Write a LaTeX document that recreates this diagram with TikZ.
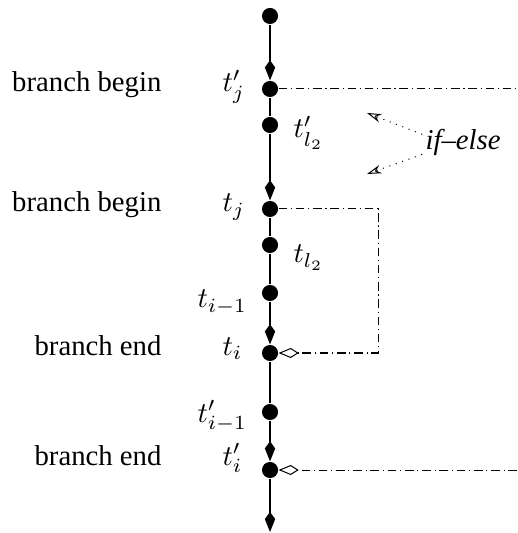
\documentclass[tikz,border=0pt]{standalone}
\usepackage{fontspec}
\setmainfont{Liberation Serif}
\usetikzlibrary{arrows.meta}
\usetikzlibrary{positioning}

\tikzset{
  event/.style={circle,fill=black,inner sep=0pt,minimum size=5.6pt},
  flow/.style={line width=0.5pt,-{Kite[length=7pt,width=3.6pt,inset=2.5pt]}},
  plain/.style={line width=0.5pt},
  branch/.style={line width=0.35pt,dash pattern=on 3pt off 1.3pt on 0.4pt off 1.3pt},
  merge/.style={branch,-{Kite[open,length=7pt,width=3.5pt,inset=2.8pt]}},
  hint/.style={line width=0.35pt,dotted,-{Stealth[open,length=5pt,width=3pt]}},
  kind/.style={anchor=base east,inner sep=0pt},
  tname/.style={anchor=base west,inner sep=0pt},
}

\begin{document}
\begin{tikzpicture}[x=0.348pt,y=-0.348pt]
  \useasboundingbox (0,0) rectangle (517,533);

  % events on the trace
  \node[event] (t0)   at (270,16)  {};
  \node[event] (tjp)  at (270,89)  {};
  \node[event] (tlp)  at (270,125) {};
  \node[event] (tj)   at (270,209) {};
  \node[event] (tl)   at (270,245) {};
  \node[event] (tim)  at (270,293) {};
  \node[event] (ti)   at (270,353) {};
  \node[event] (timp) at (270,412) {};
  \node[event] (tip)  at (270,470) {};
  \coordinate (tend) at (270,532);

  % trace
  \draw[flow]  (t0) -- (tjp);
  \draw[plain] (tjp) -- (tlp);
  \draw[flow]  (tlp) -- (tj);
  \draw[plain] (tj) -- (tl) -- (tim);
  \draw[flow]  (tim) -- (ti);
  \draw[plain] (ti) -- (timp);
  \draw[flow]  (timp) -- (tip);
  \draw[flow]  (tip) -- (tend);

  % names of the events
  \node[tname] (njp)  at (222,92)  {$t'_j$};
  \node[tname] (nlp)  at (293,138) {$t'_{l_2}$};
  \node[tname] (nj)   at (222,212) {$t_j$};
  \node[tname] (nl)   at (293,263) {$t_{l_2}$};
  \node[tname] (nim)  at (197,308) {$t_{i-1}$};
  \node[tname] (ni)   at (222,355) {$t_i$};
  \node[tname] (nimp) at (197,422) {$t'_{i-1}$};
  \node[tname] (nip)  at (222,465) {$t'_i$};

  % kinds of the events
  \node[kind] (kb1) at (162,92)  {branch begin};
  \node[kind] (kb2) at (162,212) {branch begin};
  \node[kind] (ke1) at (162,355) {branch end};
  \node[kind] (ke2) at (162,465) {branch end};

  % branches
  \coordinate (outer1) at (517,89);
  \coordinate (outer2) at (517,470);
  \coordinate (c1) at (378,209);
  \coordinate (c2) at (378,353);
  \draw[branch] (tjp) -- (outer1);
  \draw[merge]  (tj) -- (c1) -- (c2) -- (ti);
  \draw[merge]  (outer2) -- (tip);

  % the two branches form an if-else
  \node[tname] (ifelse) at (425,150) {\itshape if--else};
  \coordinate (h1) at (367,113);
  \coordinate (h2) at (367,174);
  \draw[hint] ([xshift=-1pt,yshift=3pt]ifelse.west) -- (h1);
  \draw[hint] ([xshift=-1pt,yshift=-4pt]ifelse.west) -- (h2);
\end{tikzpicture}
\end{document}
